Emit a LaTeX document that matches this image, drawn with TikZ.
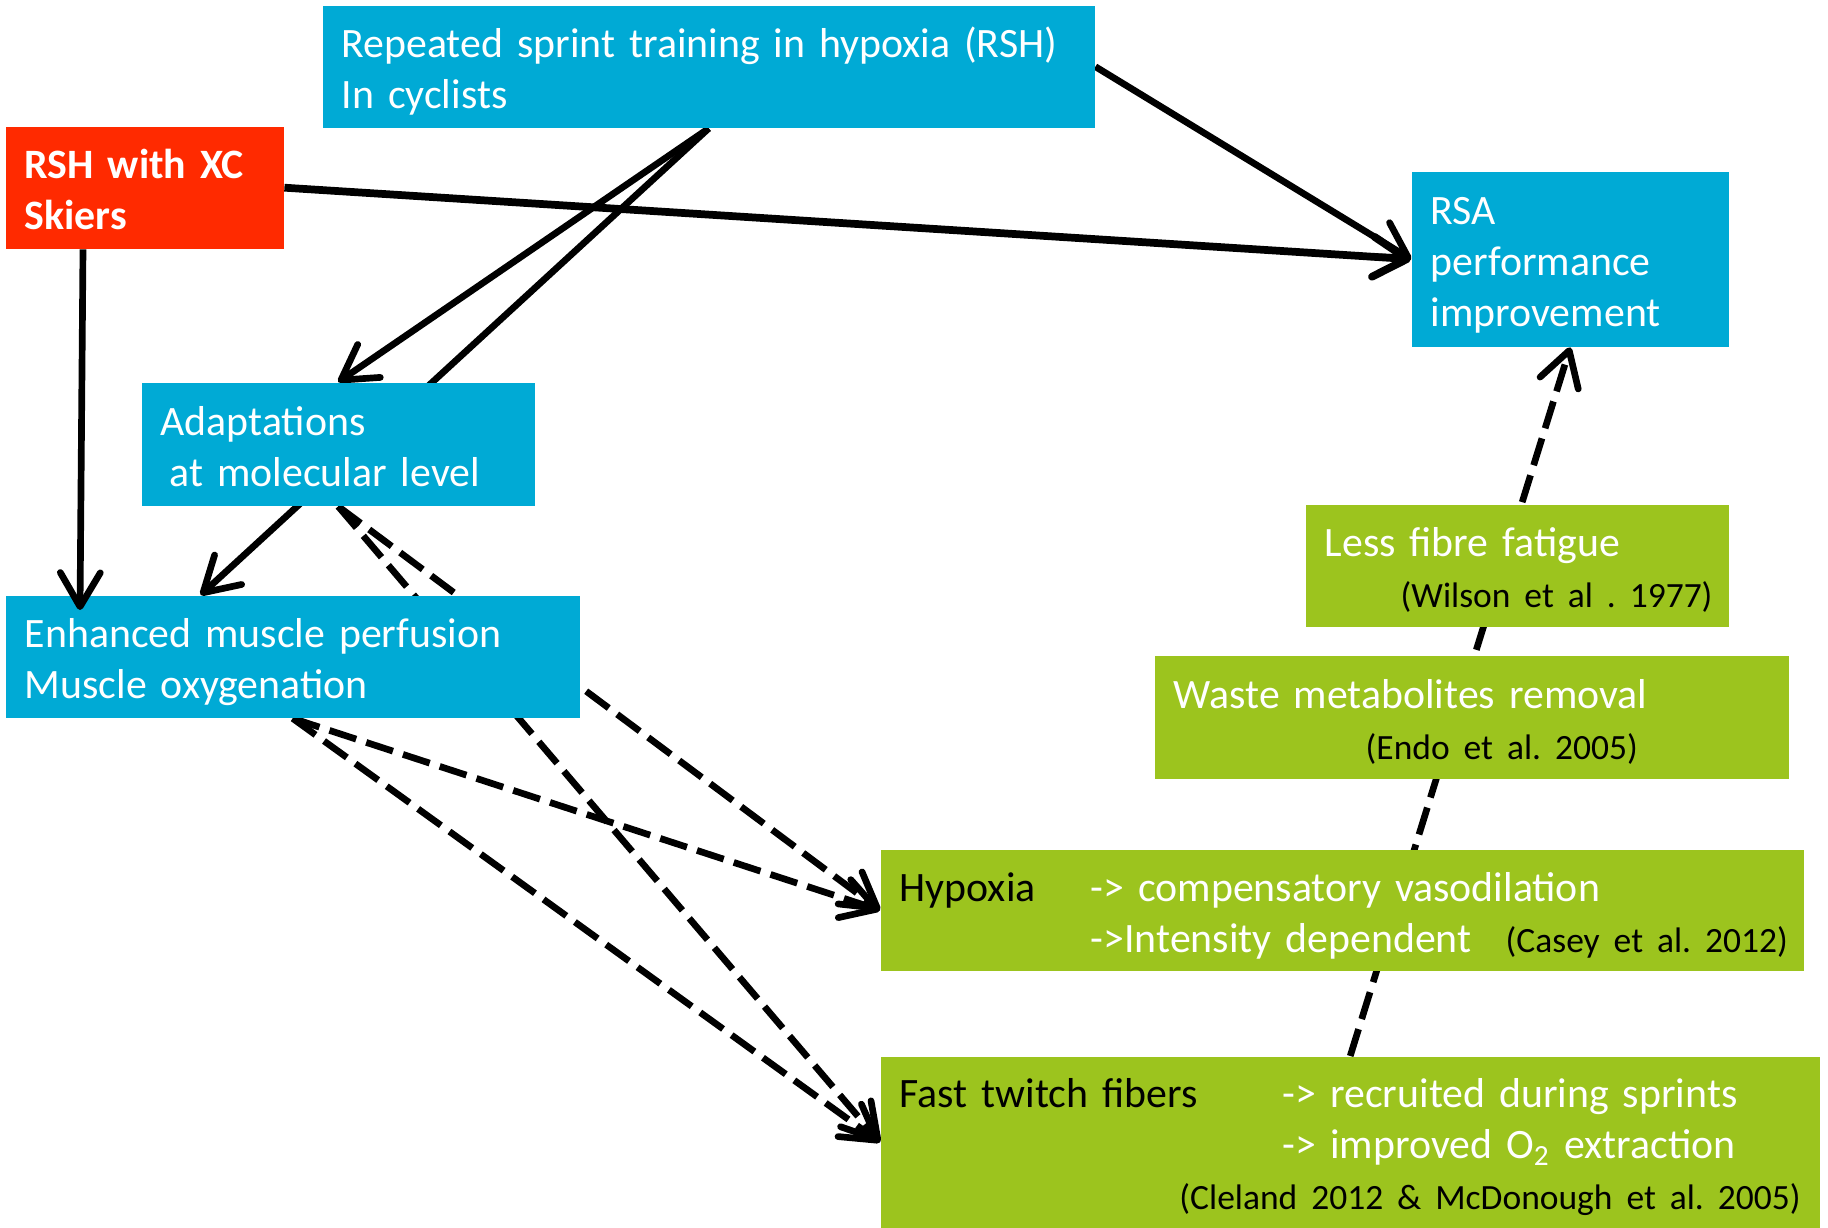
\documentclass[tikz,border=0pt]{standalone}
\usepackage{fontspec}
\setmainfont{Carlito}
\usepackage{xcolor}
\usetikzlibrary{arrows.meta, backgrounds, calc}
\definecolor{ptBlue}{HTML}{00AAD5}
\definecolor{ptRed}{HTML}{FF2A00}
\definecolor{ptGreen}{HTML}{9CC41E}
\frenchspacing
\newcommand{\citeNote}[1]{\mbox{\fontsize{10.1}{13}\selectfont\color{black}#1}}
\tikzset{
  every node/.style={font=\fontsize{11.9}{14.5}\selectfont},
  arr/.style={-{Straight Barb[length=3.4mm, width=4mm, round]}, line width=1.9pt},
  arrd/.style={arr, dash pattern=on 8pt off 3pt},
  box/.style={anchor=north west, inner xsep=0.19cm, inner ysep=0pt, align=left, text=white,
    execute at begin node={\rule{0pt}{12.5pt}}, execute at end node={\rule[-3.1pt]{0pt}{0pt}}},
  boxBlue/.style={box, fill=ptBlue},
  boxRed/.style={box, fill=ptRed, font=\fontsize{11.9}{14.5}\selectfont\bfseries},
  boxGreen/.style={box, fill=ptGreen},
}

\begin{document}
\begin{tikzpicture}
  \useasboundingbox (0,0) rectangle (18.28,12.27);
  % --- training and outcome ---
  \node[boxBlue, text width=7.34cm, minimum height=1.22cm] (rsh) at (3.22,12.22)
    {Repeated sprint training in hypoxia (RSH)\\In cyclists};
  \node[boxRed, text width=2.40cm, minimum height=1.22cm] (xc) at (0.05,11.01)
    {RSH with XC\\Skiers};
  \node[boxBlue, text width=2.79cm, minimum height=1.75cm] (rsa) at (14.11,10.56)
    {RSA\\performance\\improvement};
  % --- left: adaptations ---
  \node[boxBlue, text width=3.55cm, minimum height=1.23cm] (adapt) at (1.41,8.45)
    {Adaptations\\\hspace*{0.09cm}at molecular level};
  \node[boxBlue, text width=5.36cm, minimum height=1.22cm] (perf) at (0.05,6.32)
    {Enhanced muscle perfusion\\Muscle oxygenation};
  % --- right: mechanisms ---
  \node[boxGreen, text width=3.85cm, minimum height=1.22cm] (fatigue) at (13.05,7.23)
    {Less fibre fatigue\\\hspace*{0.76cm}\citeNote{(Wilson et al . 1977)}};
  \node[boxGreen, text width=5.96cm, minimum height=1.23cm] (waste) at (11.54,5.72)
    {Waste metabolites removal\\\hspace*{1.92cm}\citeNote{(Endo et al. 2005)}};
  \node[boxGreen, text width=8.85cm, minimum height=1.21cm] (hyp) at (8.80,3.78)
    {\makebox[1.91cm][l]{\color{black}Hypoxia}-> compensatory vasodilation\\
     \hspace*{1.91cm}\makebox[4.15cm][l]{->Intensity dependent}\citeNote{(Casey et al. 2012)}};
  \node[boxGreen, text width=9.01cm, minimum height=1.71cm] (fibres) at (8.80,1.71)
    {\makebox[3.83cm][l]{\color{black}Fast twitch fibers}-> recruited during sprints\\
     \hspace*{3.83cm}-> improved O\textsubscript{2} extraction\\
     \hspace*{\fill}\citeNote{(Cleland 2012 \& McDonough et al. 2005)}};
  % connectors run behind the boxes
  \begin{scope}[on background layer]
    \draw[arr] (rsh.east) -- (rsa.west);
    \draw[arr, line width=2.2pt] (xc.east) -- (rsa.west);
    \draw[arr] (rsh.south) -- (adapt.north);
    \draw[arr] (rsh.south) -- ($(perf.north west)!0.34!(perf.north east)$);
    \draw[arrd] (adapt.south) -- (hyp.west);
    \draw[arrd] (adapt.south) -- (fibres.west);
    \draw[arrd] (perf.south) -- (hyp.west);
    \draw[arrd] (perf.south) -- (fibres.west);
    \draw[arrd] (fibres.north) -- (rsa.south);
  \end{scope}
  \draw[arr] ([xshift=0.78cm]xc.south west) -- ([xshift=0.75cm, yshift=-0.15cm]perf.north west);
\end{tikzpicture}
\end{document}
